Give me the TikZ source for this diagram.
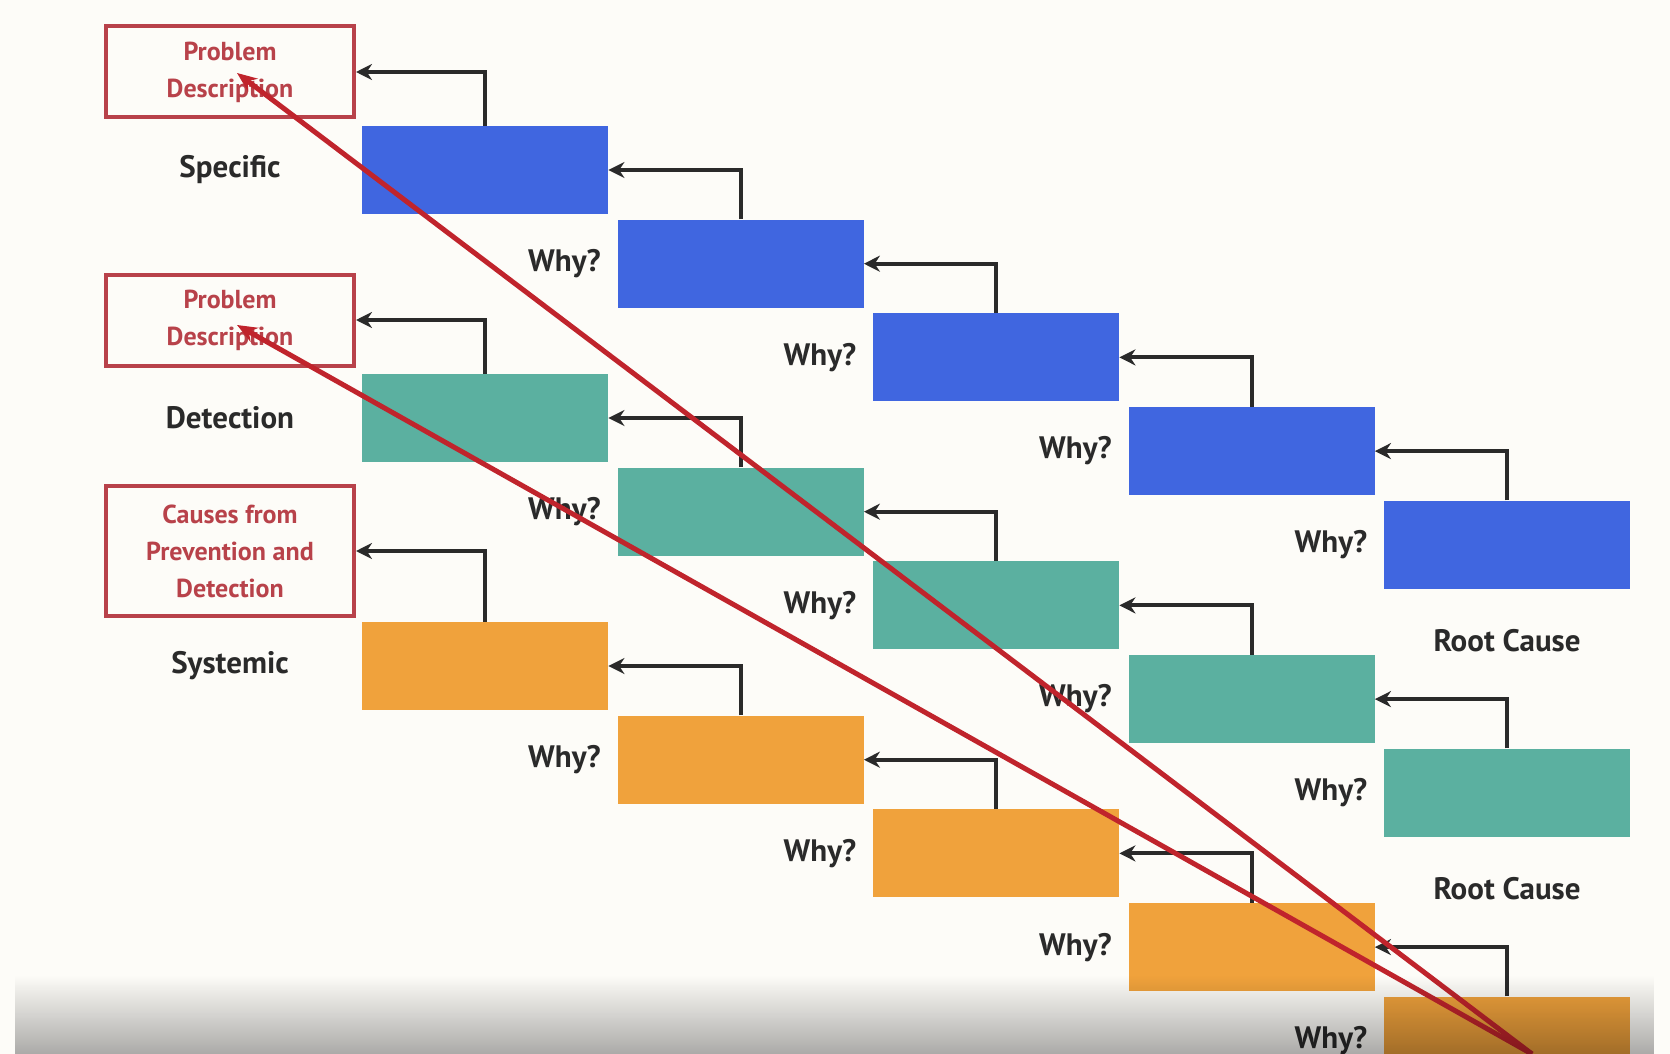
\documentclass[tikz,border=0pt]{standalone}
\usepackage{fontspec}
\setmainfont{PT Sans}
\usetikzlibrary{positioning,arrows.meta,fadings}
\definecolor{wblue}{RGB}{64,102,224}
\definecolor{wteal}{RGB}{91,176,160}
\definecolor{worange}{RGB}{240,162,60}
\definecolor{wred}{RGB}{184,66,74}
\definecolor{wline}{RGB}{192,36,44}
\definecolor{wtext}{RGB}{42,42,42}
\definecolor{wpaper}{RGB}{253,252,248}

\begin{document}
\begin{tikzpicture}[x=0.5pt,y=-0.5pt,
    whybox/.style={minimum width=123pt,minimum height=44pt,inner sep=0pt},
    lbl/.style={font=\fontsize{15.5}{18}\selectfont\bfseries,text=wtext,inner sep=0pt},
    probbox/.style={draw=wred,line width=2pt,minimum width=124pt,inner sep=0pt,align=center,text=wred,
      font=\fontsize{13}{18.5}\selectfont\bfseries},
    elbow/.style={draw=wtext,line width=2pt,-{Stealth[length=8pt,width=8pt]}},
    redline/.style={draw=wline,line width=2.5pt,-{Stealth[length=10pt,width=8pt]}}]
  \clip (0,0) rectangle (1670,1054);
  \fill[wpaper] (0,0) rectangle (1670,1054);
  \node[probbox,minimum height=45.5pt] (prob1) at (230,72) {Problem\\Description};
  \node[probbox,minimum height=45.5pt] (prob2) at (230,320) {Problem\\Description};
  \node[probbox,minimum height=65pt] (cause) at (230,551) {Causes from\\Prevention and\\Detection};
  \foreach \grp/\col/\prb/\txt [count=\g from 0] in
      {spec/wblue/prob1/Specific,det/wteal/prob2/Detection,sys/worange/cause/Systemic}{
    \foreach \i in {0,...,4}
      \node[whybox,fill=\col] (\grp\i) at ({485+255.5*\i},{170+93.7*\i+248*\g}) {};
    \node[lbl] at (\grp0 -| \prb) {\txt};
    \draw[elbow] (\grp0.north) |- (\prb.east);
    \foreach \i [count=\j from 0] in {1,...,4}{
      \node[lbl,left=8pt of \grp\i] {Why?};
      \draw[elbow] (\grp\i.north) |- (\grp\j.east);
    }
  }
  \node[lbl] at ([yshift=-25.5pt]spec4.south) {Root Cause};
  \node[lbl] at ([yshift=-25.5pt]det4.south) {Root Cause};
  \coordinate (rc) at (1532,1054);
  \draw[redline] (rc) -- ([shift={(7,1)}]prob1.center);
  \draw[redline] (rc) -- ([shift={(7,5)}]prob2.center);
  \fill[black,path fading=north,fill opacity=0.32] (16,975) rectangle (1656,1054);
\end{tikzpicture}
\end{document}
